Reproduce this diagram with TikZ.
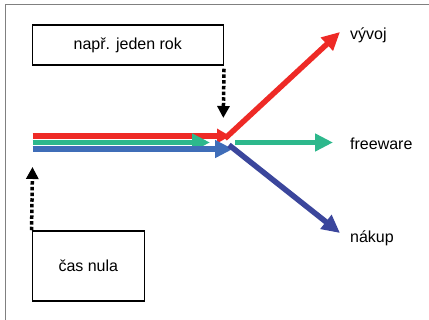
\documentclass[tikz,border=0pt]{standalone}
\usepackage{fontspec}
\setmainfont{Liberation Sans}
\usetikzlibrary{arrows.meta}

\definecolor{vyvojred}{HTML}{EE2A26}
\definecolor{freegreen}{HTML}{2DB88C}
\definecolor{baseblue}{HTML}{3F6DB8}
\definecolor{nakupblue}{HTML}{3B469C}

\begin{document}
\begin{tikzpicture}[x = 1pt, y = -1pt, font = \fontsize{16}{18}\selectfont,
	box/.style = {draw, line width = 1.5pt, inner sep = 0pt},
	branch/.style = {line width = 5.5pt, -{Triangle[length = 18pt, width = 17pt]}},
	pointer/.style = {line width = 3.5pt, dash pattern = on 3.5pt off 2.2pt, -{Triangle[length = 12pt, width = 12pt]}},
	tag/.style = {anchor = west, inner sep = 0pt}]

\useasboundingbox (0, 0) rectangle (429, 320);

	% Frame

	\draw [gray, line width = 1pt] (5.7, 320) -- (5.7, 4.3) -- (429, 4.3);

	% Boxes

	\node (rok) [box, minimum width = 191pt, minimum height = 40pt] at (127.8, 45) {např. jeden rok};
	\node (nula) [box, minimum width = 112pt, minimum height = 70pt] at (88.3, 266) {čas nula};

	% Points in time

	\coordinate (split) at (223.3, 118);
	\coordinate (zero) at (32.5, 167);

	% Common part of the lines

	\coordinate (r0) at (32.5, 136);
	\coordinate (g0) at (32.5, 142.5);
	\coordinate (b0) at (32.5, 149);

	\draw [branch, vyvojred, -{Triangle[length = 13pt, width = 14pt]}] (r0) -- (230, 136) coordinate (r1);
	\draw [branch, freegreen] (g0) -- (210, 142.5) coordinate (g1);
	\draw [branch, baseblue] (b0) -- (233, 149) coordinate (b1);

	% Labels

	\node (vyvoj) [tag] at (350, 35) {vývoj};
	\node (free) [tag] at (350, 143.5) {freeware};
	\node (nakup) [tag] at (350, 238) {nákup};

	% Branches

	\draw [branch, vyvojred] (225, 138.5) -- (340, 32);
	\draw [branch, freegreen] (235, 142.5) -- (333, 142.5);
	\draw [branch, nakupblue] (229, 145) -- (340, 233);

	% Time pointers

	\draw [pointer, shorten < = 3pt] (rok.south east) -- (split);
	\draw [pointer] (nula.north west) -- (zero);

\end{tikzpicture}
\end{document}
